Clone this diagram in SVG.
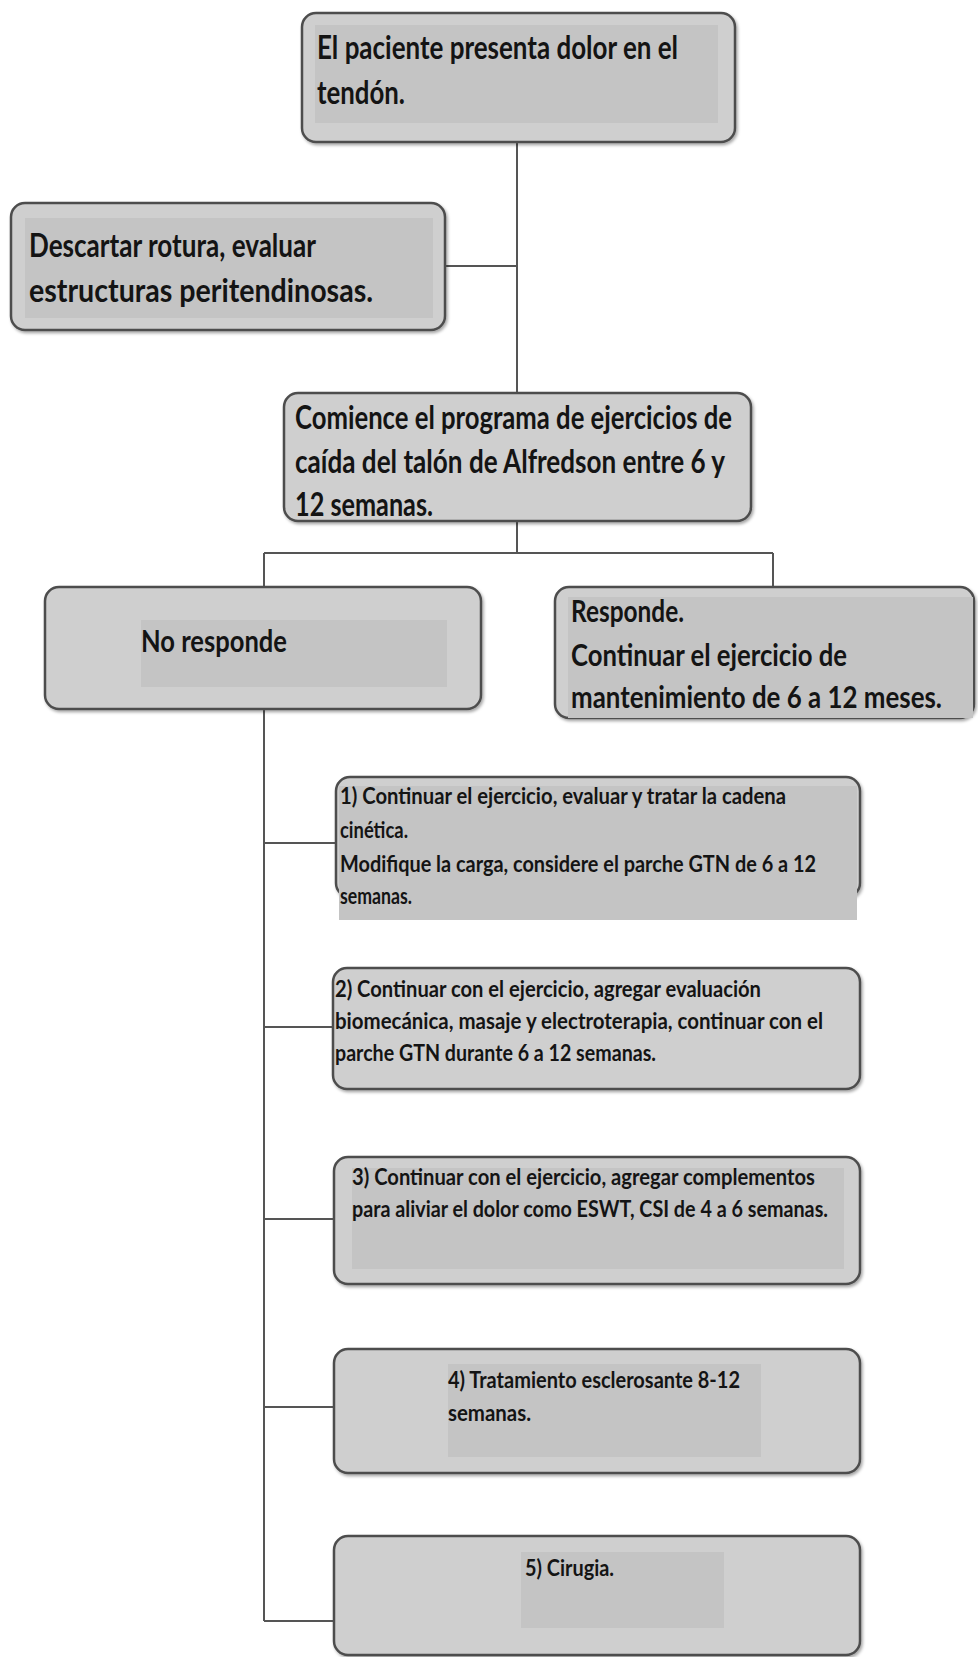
<svg xmlns="http://www.w3.org/2000/svg" width="978" height="1657" viewBox="0 0 978 1657">
<defs>
<filter id="sh" x="-5%" y="-5%" width="110%" height="115%">
<feDropShadow dx="1.5" dy="2" stdDeviation="1.5" flood-color="#000" flood-opacity="0.35"/>
</filter>
</defs>
<style>
.box{fill:#cfcfcf;stroke:#4d4d4d;stroke-width:2.5;filter:url(#sh)}
.bg{fill:#c4c4c4}
.t{font-family:Lato,"Liberation Sans",sans-serif;font-weight:bold;fill:#141414}
.big{font-size:32px}
.mid{font-size:30px}
.sm{font-size:23px}
.c{stroke:#555;stroke-width:2;fill:none}
</style>
<rect width="978" height="1657" fill="#fff"/>
<g id="connectors">
<path class="c" d="M517 142V393M445 266H517M517 521V553M264 553H773M264 553V587M773 553V587M264 709V1621M264 843H336M264 1027H333M264 1219H334M264 1407H334M264 1621H334"/>
</g>
<g id="n1">
<rect class="box" x="302" y="13" width="433" height="129" rx="14"/>
<rect class="bg" x="315" y="25" width="403" height="98"/>
<text class="t big" x="317" y="59" textLength="361" lengthAdjust="spacingAndGlyphs">El paciente presenta dolor en el</text>
<text class="t big" x="317" y="104" textLength="88" lengthAdjust="spacingAndGlyphs">tendón.</text>
</g>
<g id="n2">
<rect class="box" x="11" y="203" width="434" height="127" rx="14"/>
<rect class="bg" x="25" y="218" width="408" height="100"/>
<text class="t big" x="29" y="257" textLength="287" lengthAdjust="spacingAndGlyphs">Descartar rotura, evaluar</text>
<text class="t big" x="29" y="302" textLength="344" lengthAdjust="spacingAndGlyphs">estructuras peritendinosas.</text>
</g>
<g id="n3">
<rect class="box" x="284" y="393" width="467" height="128" rx="14"/>
<text class="t big" x="295" y="429" textLength="437" lengthAdjust="spacingAndGlyphs">Comience el programa de ejercicios de</text>
<text class="t big" x="295" y="473" textLength="430" lengthAdjust="spacingAndGlyphs">caída del talón de Alfredson entre 6 y</text>
<text class="t big" x="295" y="516" textLength="138" lengthAdjust="spacingAndGlyphs">12 semanas.</text>
</g>
<g id="n4">
<rect class="box" x="45" y="587" width="436" height="122" rx="14"/>
<rect class="bg" x="141" y="620" width="306" height="67"/>
<text class="t mid" x="141" y="652" textLength="146" lengthAdjust="spacingAndGlyphs">No responde</text>
</g>
<g id="n5">
<rect class="box" x="555" y="587" width="419" height="131" rx="14"/>
<rect class="bg" x="568" y="597" width="405" height="121"/>
<text class="t mid" x="571" y="622" textLength="113" lengthAdjust="spacingAndGlyphs">Responde.</text>
<text class="t mid" x="571" y="666" textLength="276" lengthAdjust="spacingAndGlyphs">Continuar el ejercicio de</text>
<text class="t mid" x="571" y="708" textLength="371" lengthAdjust="spacingAndGlyphs">mantenimiento de 6 a 12 meses.</text>
</g>
<g id="n6">
<rect class="box" x="336" y="777" width="524" height="120" rx="14"/>
<rect class="bg" x="339" y="786" width="518" height="134"/>
<text class="t sm" x="340" y="804" textLength="446" lengthAdjust="spacingAndGlyphs">1) Continuar el ejercicio, evaluar y tratar la cadena</text>
<text class="t sm" x="340" y="838" textLength="68" lengthAdjust="spacingAndGlyphs">cinética.</text>
<text class="t sm" x="340" y="872" textLength="476" lengthAdjust="spacingAndGlyphs">Modifique la carga, considere el parche GTN de 6 a 12</text>
<text class="t sm" x="340" y="904" textLength="72" lengthAdjust="spacingAndGlyphs">semanas.</text>
</g>
<g id="n7">
<rect class="box" x="333" y="968" width="527" height="121" rx="14"/>
<text class="t sm" x="335" y="997" textLength="426" lengthAdjust="spacingAndGlyphs">2) Continuar con el ejercicio, agregar evaluación</text>
<text class="t sm" x="335" y="1029" textLength="488" lengthAdjust="spacingAndGlyphs">biomecánica, masaje y electroterapia, continuar con el</text>
<text class="t sm" x="335" y="1061" textLength="321" lengthAdjust="spacingAndGlyphs">parche GTN durante 6 a 12 semanas.</text>
</g>
<g id="n8">
<rect class="box" x="334" y="1157" width="526" height="127" rx="14"/>
<rect class="bg" x="352" y="1168" width="492" height="101"/>
<text class="t sm" x="352" y="1185" textLength="463" lengthAdjust="spacingAndGlyphs">3) Continuar con el ejercicio, agregar complementos</text>
<text class="t sm" x="352" y="1217" textLength="476" lengthAdjust="spacingAndGlyphs">para aliviar el dolor como ESWT, CSI de 4 a 6 semanas.</text>
</g>
<g id="n9">
<rect class="box" x="334" y="1349" width="526" height="124" rx="14"/>
<rect class="bg" x="448" y="1364" width="313" height="93"/>
<text class="t sm" x="448" y="1388" textLength="292" lengthAdjust="spacingAndGlyphs">4) Tratamiento esclerosante 8-12</text>
<text class="t sm" x="448" y="1421" textLength="83" lengthAdjust="spacingAndGlyphs">semanas.</text>
</g>
<g id="n10">
<rect class="box" x="334" y="1536" width="526" height="119" rx="14"/>
<rect class="bg" x="521" y="1552" width="203" height="76"/>
<text class="t sm" x="525" y="1576" textLength="89" lengthAdjust="spacingAndGlyphs">5) Cirugia.</text>
</g>
</svg>
